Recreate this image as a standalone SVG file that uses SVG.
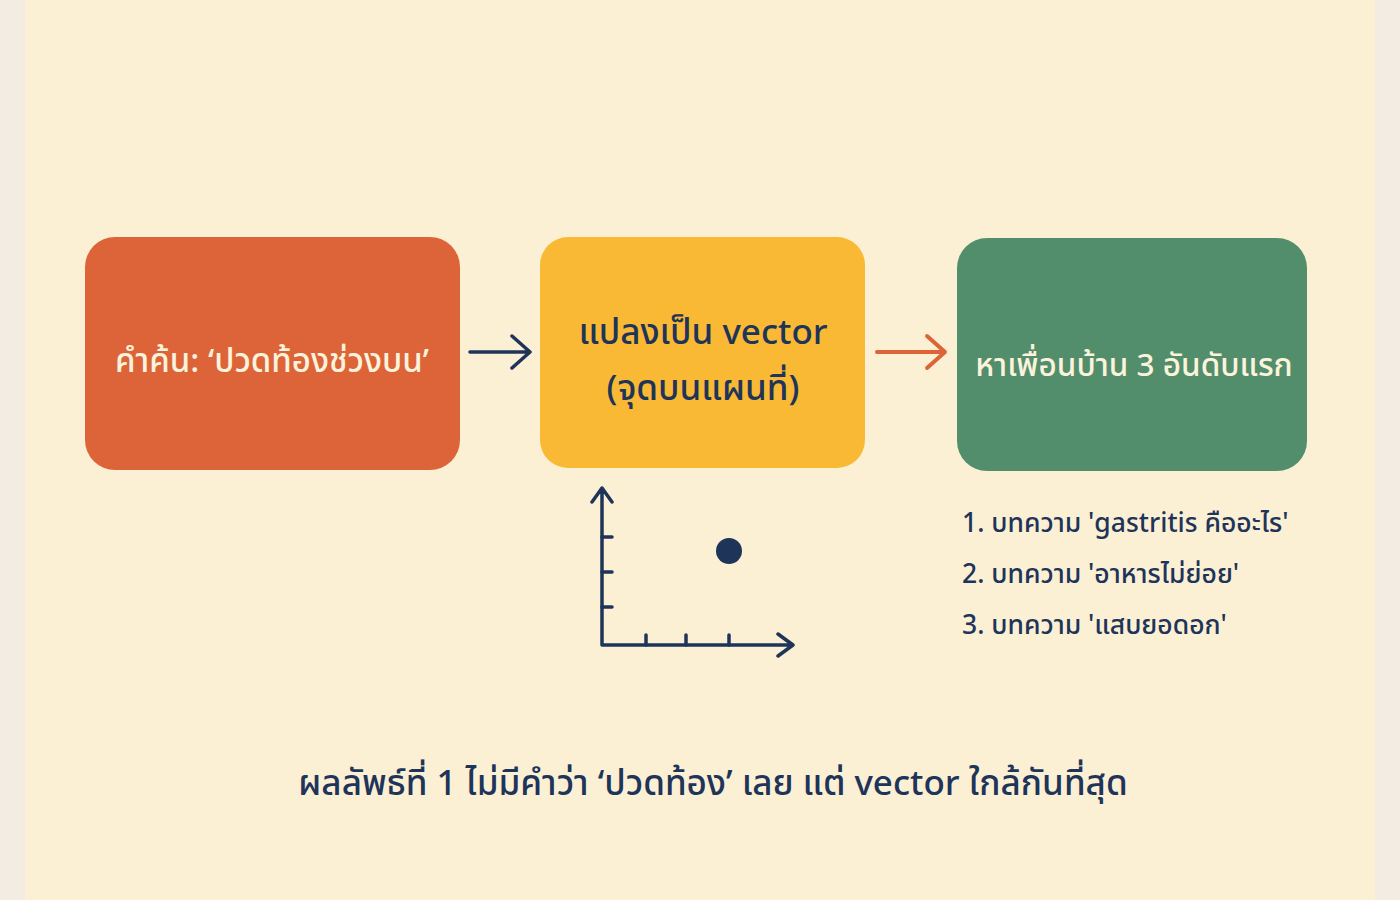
<svg xmlns="http://www.w3.org/2000/svg" width="1400" height="900" viewBox="0 0 1400 900">
<defs>
<style>
.t{font-family:"Noto Sans Thai","Noto Sans","DejaVu Sans",sans-serif;text-anchor:middle;font-weight:500}
.l{font-family:"Noto Sans Thai","Noto Sans","DejaVu Sans",sans-serif;font-weight:500;font-size:26.5px}
.cream{fill:#FCF3DC}
.navy{fill:#1E3459}
.ax{stroke:#1E3459;stroke-width:3.5;fill:none;stroke-linecap:round;stroke-linejoin:round}
</style>
</defs>
<rect x="0" y="0" width="1400" height="900" fill="#F3ECE2"/>
<rect x="25" y="0" width="1350" height="900" fill="#FBF0D4"/>
<g id="node-query">
<rect x="85" y="237" width="375" height="233" rx="30" fill="#DD6438"/>
<text class="t cream" x="272" y="372" font-size="33">คำค้น: ‘ปวดท้องช่วงบน’</text>
</g>
<g id="node-vector">
<rect x="540" y="237" width="325" height="231" rx="28" fill="#F9B934"/>
<text class="t navy" x="703" y="344" font-size="35">แปลงเป็น vector</text>
<text class="t navy" x="703" y="400" font-size="35">(จุดบนแผนที่)</text>
</g>
<g id="node-neighbors">
<rect x="957" y="238" width="350" height="233" rx="30" fill="#528E6B"/>
<text class="t cream" x="1134" y="376" font-size="31.5">หาเพื่อนบ้าน 3 อันดับแรก</text>
</g>
<g id="connectors">
<path class="ax" d="M470 352 H528 M512 336 L530 352 L512 368"/>
<path d="M877 352 H943 M927 336 L945 352 L927 368" fill="none" stroke="#DD6438" stroke-width="4" stroke-linecap="round" stroke-linejoin="round"/>
</g>
<g id="chart">
<path class="ax" d="M602 490 V645 H792 M592 502 L602 488 L612 502 M778 634 L793 645 L778 656"/>
<path class="ax" d="M602 537 H612 M602 572 H612 M602 607 H612 M646 635 V645 M686 635 V645 M729 635 V645"/>
<circle cx="729" cy="551" r="13" fill="#1E3459"/>
</g>
<g id="results">
<text class="l navy" x="962" y="532">1. บทความ 'gastritis คืออะไร'</text>
<text class="l navy" x="962" y="583">2. บทความ 'อาหารไม่ย่อย'</text>
<text class="l navy" x="962" y="634">3. บทความ 'แสบยอดอก'</text>
</g>
<g id="caption">
<text class="t navy" x="713" y="795" font-size="35">ผลลัพธ์ที่ 1 ไม่มีคำว่า ‘ปวดท้อง’ เลย แต่ vector ใกล้กันที่สุด</text>
</g>
</svg>
